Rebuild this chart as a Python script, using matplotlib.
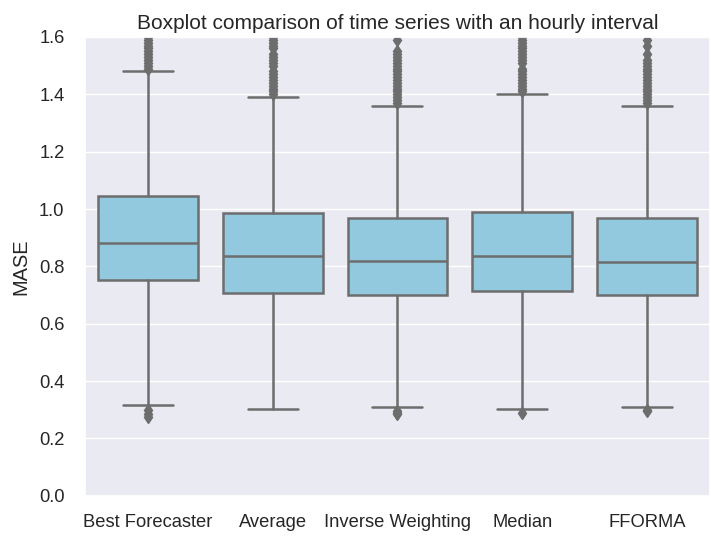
import matplotlib
matplotlib.use("Agg")
import matplotlib.pyplot as plt
import seaborn as sns

sns.set_theme(style="darkgrid")
plt.rcParams['font.family'] = ['Liberation Sans', 'DejaVu Sans']

# box statistics (MASE)
methods = ["Best Forecaster", "Average", "Inverse Weighting", "Median", "FFORMA"]
q1 = [0.753, 0.708, 0.701, 0.715, 0.701]
med = [0.882, 0.836, 0.819, 0.836, 0.816]
q3 = [1.046, 0.986, 0.969, 0.990, 0.969]
whislo = [0.317, 0.303, 0.310, 0.303, 0.310]
whishi = [1.481, 1.391, 1.359, 1.401, 1.359]

# outliers (approximate positions of the visible diamonds)
out_best = [0.300, 0.285, 0.275, 1.49, 1.50, 1.51, 1.52, 1.53, 1.54, 1.55, 1.56,
            1.57, 1.58, 1.59, 1.60, 1.62]
out_avg = [1.40, 1.41, 1.42, 1.43, 1.44, 1.45, 1.46, 1.47, 1.48, 1.50, 1.51,
           1.52, 1.53, 1.54, 1.56, 1.57, 1.58, 1.59, 1.60, 1.62]
out_inv = [0.295, 0.290, 0.285, 1.37, 1.38, 1.39, 1.40, 1.41, 1.42, 1.43, 1.44,
           1.45, 1.46, 1.47, 1.48, 1.49, 1.50, 1.51, 1.52, 1.53, 1.54, 1.55, 1.59]
out_med = [0.290, 1.41, 1.42, 1.43, 1.44, 1.45, 1.46, 1.47, 1.48, 1.49, 1.51,
           1.52, 1.53, 1.54, 1.55, 1.56, 1.57, 1.58, 1.59, 1.60, 1.62]
out_ffo = [0.300, 0.295, 1.37, 1.38, 1.39, 1.40, 1.41, 1.42, 1.43, 1.44, 1.45,
           1.46, 1.47, 1.48, 1.49, 1.50, 1.51, 1.52, 1.54, 1.57, 1.59]
fliers = [out_best, out_avg, out_inv, out_med, out_ffo]

stats = []
for i, name in enumerate(methods):
    stats.append(dict(label=name, q1=q1[i], med=med[i], q3=q3[i],
                      whislo=whislo[i], whishi=whishi[i], fliers=fliers[i]))

line_col = "#6d6d6d"
box_col = "#93c9df"
lw = 1.8

fig = plt.figure(figsize=(7.11, 5.36), dpi=100)
ax = fig.add_axes([0.12, 0.075, 0.878, 0.856])

ax.bxp(stats, positions=range(len(methods)), widths=0.8, patch_artist=True,
       boxprops=dict(facecolor=box_col, edgecolor=line_col, linewidth=lw),
       medianprops=dict(color=line_col, linewidth=lw),
       whiskerprops=dict(color=line_col, linewidth=lw),
       capprops=dict(color=line_col, linewidth=lw),
       flierprops=dict(marker="d", markerfacecolor=line_col, markeredgecolor=line_col,
                       markersize=6))

ax.set_xlim(-0.5, len(methods) - 0.5)
ax.set_ylim(0, 1.6)
ax.set_yticks([0.0, 0.2, 0.4, 0.6, 0.8, 1.0, 1.2, 1.4, 1.6])
ax.set_xticks(range(len(methods)))
ax.set_xticklabels(methods)
ax.tick_params(axis="y", labelsize=13.2, pad=9)
ax.tick_params(axis="x", labelsize=13.2, pad=7)
ax.set_ylabel("MASE", fontsize=14.4, labelpad=6)
ax.set_title("Boxplot comparison of time series with an hourly interval", fontsize=15)
ax.grid(axis="x", visible=False)

fig.savefig("out.png", dpi=100)
